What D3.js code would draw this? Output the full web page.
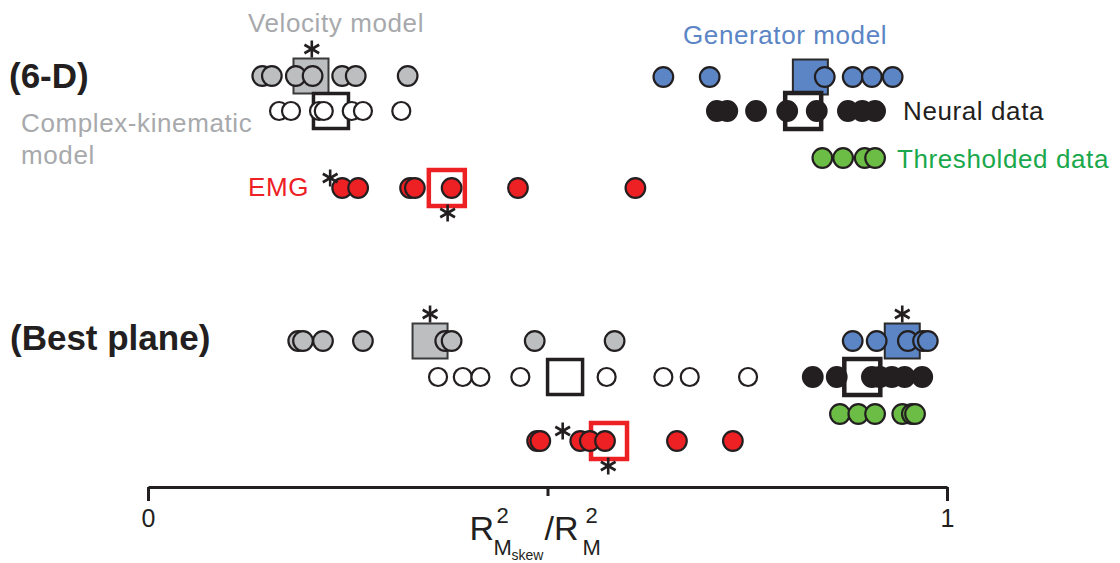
<!DOCTYPE html>
<html><head><meta charset="utf-8">
<script src="https://cdn.jsdelivr.net/npm/d3@7"></script>
<style>
body{margin:0;background:#fff;}
svg text{font-family:"Helvetica Neue",Helvetica,"Liberation Sans",Arial,sans-serif;}
</style></head>
<body><svg id="c" width="1120" height="563"></svg>
<script>
// ---- data (values are R²_Mskew / R²_M) ----
const panels = ["(6-D)", "(Best plane)"];
// 6-D
const vel6 = [0.143, 0.155, 0.185, 0.206, 0.243, 0.260, 0.325];
const velMean6 = 0.204;
const cplx6 = [0.164, 0.179, 0.214, 0.220, 0.255, 0.269, 0.317];
const cplxMean6 = 0.229;
const gen6 = [0.645, 0.703, 0.847, 0.882, 0.906, 0.932];
const genMean6 = 0.829;
const neur6 = [0.712, 0.725, 0.761, 0.800, 0.837, 0.876, 0.894, 0.910];
const neurMean6 = 0.820;
const thr6 = [0.844, 0.870, 0.897, 0.910];
const emg6 = [0.243, 0.263, 0.328, 0.334, 0.380, 0.463, 0.610];
const emgMean6 = 0.374;
// Best plane
const velBP = [0.188, 0.194, 0.219, 0.269, 0.372, 0.380, 0.484, 0.584];
const velMeanBP = 0.353;
const cplxBP = [0.363, 0.394, 0.416, 0.466, 0.574, 0.645, 0.678, 0.751];
const cplxMeanBP = 0.522;
const genBP = [0.882, 0.912, 0.951, 0.970, 0.976];
const genMeanBP = 0.944;
const neurBP = [0.832, 0.862, 0.906, 0.916, 0.931, 0.947, 0.969];
const neurMeanBP = 0.894;
const thrBP = [0.866, 0.889, 0.910, 0.944, 0.956, 0.960];
const emgBP = [0.487, 0.491, 0.541, 0.553, 0.572, 0.662, 0.732];
const emgMeanBP = 0.577;
// significance stars: [panel, series, value, placement]
const stars = [
  [0, "vel", 0.205, "above"],
  [0, "emg", 0.228, "upleft"],
  [0, "emg", 0.375, "below"],
  [1, "vel", 0.353, "above"],
  [1, "gen", 0.944, "above"],
  [1, "emg", 0.519, "upleft"],
  [1, "emg", 0.576, "below"]
];
const tickVals = [0, 0.5, 1];
const tickLabels = ["0", "", "1"];

// ---- styles ----
const C = {
  vel: "#bcbec0", cplx: "#ffffff", gen: "#5b85c5", neur: "#231f20", thr: "#6cbd45", emg: "#ed2024",
  velText: "#a7a9ac", genText: "#5b85c5", thrText: "#19a84b", emgText: "#ed2024", ink: "#231f20"
};

const svg = d3.select("#c");
const x = d3.scaleLinear().domain([0, 1]).range([148, 947]);

// row y positions
const rowY = [
  {vel: 76, cplx: 111, gen: 77, neur: 111, thr: 158, emg: 188},
  {vel: 341, cplx: 377, gen: 341, neur: 377, thr: 414, emg: 441}
];

const series = [
  {vel: vel6, cplx: cplx6, gen: gen6, neur: neur6, thr: thr6, emg: emg6},
  {vel: velBP, cplx: cplxBP, gen: genBP, neur: neurBP, thr: thrBP, emg: emgBP}
];
const means = [
  {vel: velMean6, cplx: cplxMean6, gen: genMean6, neur: neurMean6, emg: emgMean6},
  {vel: velMeanBP, cplx: cplxMeanBP, gen: genMeanBP, neur: neurMeanBP, emg: emgMeanBP}
];

const sqStyle = {
  vel: {size: 35, fill: C.vel, stroke: "#3a3a3a", sw: 2},
  cplx: {size: 35, fill: "#fff", stroke: C.ink, sw: 3.5},
  gen: {size: 35, fill: C.gen, stroke: "#2a2a2a", sw: 2},
  neur: {size: 36, fill: "#fff", stroke: C.ink, sw: 4.5},
  emg: {size: 36, fill: "#fff", stroke: C.emg, sw: 4.5}
};

function star(g, cx, cy, r) {
  const a = [90, 30, -30];
  a.forEach(deg => {
    const t = deg * Math.PI / 180;
    g.append("line")
      .attr("x1", cx - r * Math.cos(t)).attr("y1", cy - r * Math.sin(t))
      .attr("x2", cx + r * Math.cos(t)).attr("y2", cy + r * Math.sin(t))
      .attr("stroke", C.ink).attr("stroke-width", 2.6);
  });
}

const order = ["vel", "cplx", "gen", "neur", "thr", "emg"];
[0, 1].forEach(p => {
  const g = svg.append("g");
  // squares (means) first
  ["vel", "cplx", "gen", "neur", "emg"].forEach(k => {
    const s = sqStyle[k];
    g.append("rect")
      .attr("x", x(means[p][k]) - s.size / 2).attr("y", rowY[p][k] - s.size / 2)
      .attr("width", s.size).attr("height", s.size)
      .attr("fill", s.fill).attr("stroke", s.stroke).attr("stroke-width", s.sw);
  });
  // circles
  order.forEach(k => {
    g.selectAll(null).data(series[p][k]).join("circle")
      .attr("cx", d => x(d)).attr("cy", rowY[p][k])
      .attr("r", k === "cplx" ? 9 : 9.8)
      .attr("fill", C[k]).attr("stroke", C.ink).attr("stroke-width", 2.2);
  });
});

// stars
stars.forEach(([p, k, v, place]) => {
  const y0 = rowY[p][k];
  let cx = x(v), cy;
  if (place === "above") cy = y0 - 27;
  else if (place === "below") cy = y0 + 25;
  else cy = y0 - 10;
  star(svg, cx, cy, 8.5);
});

// panel titles
svg.append("text").attr("x", 9).attr("y", 88).attr("font-size", 35).attr("font-weight", "bold")
  .attr("fill", C.ink).text(panels[0]);
svg.append("text").attr("x", 10).attr("y", 350).attr("font-size", 35).attr("font-weight", "bold")
  .attr("fill", C.ink).text(panels[1]);

// series labels
const lab = (t, xx, yy, col, anchor) => svg.append("text").attr("x", xx).attr("y", yy)
  .attr("font-size", 26).attr("letter-spacing", 0.6).attr("fill", col)
  .attr("text-anchor", anchor || "start").text(t);
lab("Velocity model", 248, 32, C.velText);
lab("Generator model", 683, 44, C.genText);
lab("Neural data", 903, 120, C.ink);
lab("Complex-kinematic", 21, 132, C.velText);
lab("model", 21, 164, C.velText);
lab("Thresholded data", 897, 168, C.thrText);
lab("EMG", 248, 196, C.emgText);

// axis
const axisY = 487;
const ax = svg.append("g").attr("transform", `translate(0,${axisY})`)
  .call(d3.axisBottom(x).tickValues(tickVals).tickSize(14).tickSizeOuter(0)
    .tickFormat((d, i) => tickLabels[i]));
ax.select(".domain").attr("stroke", C.ink).attr("stroke-width", 3);
ax.selectAll(".tick line").attr("stroke", C.ink).attr("stroke-width", 3)
  .attr("y2", (d) => d === 0.5 ? 9 : 14);
ax.selectAll(".tick text").attr("font-size", 25).attr("fill", C.ink).attr("y", 22)
  .attr("font-family", "'Liberation Sans Narrow','Liberation Sans',Arial,sans-serif");

// axis title R²_Mskew / R²_M
const cx0 = x(0.5);
const tf = "'Liberation Sans Narrow','Liberation Sans',Arial,sans-serif";
const at = (t, dx, yy, fs) => svg.append("text").attr("x", cx0 + dx).attr("y", yy)
  .attr("font-size", fs).attr("fill", C.ink).attr("font-family", tf).text(t);
at("R", -78, 540, 34);
at("2", -51, 523, 22);
at("M", -54, 555, 22);
at("skew", -36, 560, 14);
at("/R", -3, 540, 34);
at("2", 38, 523, 22);
at("M", 35, 555, 22);
</script></body></html>
